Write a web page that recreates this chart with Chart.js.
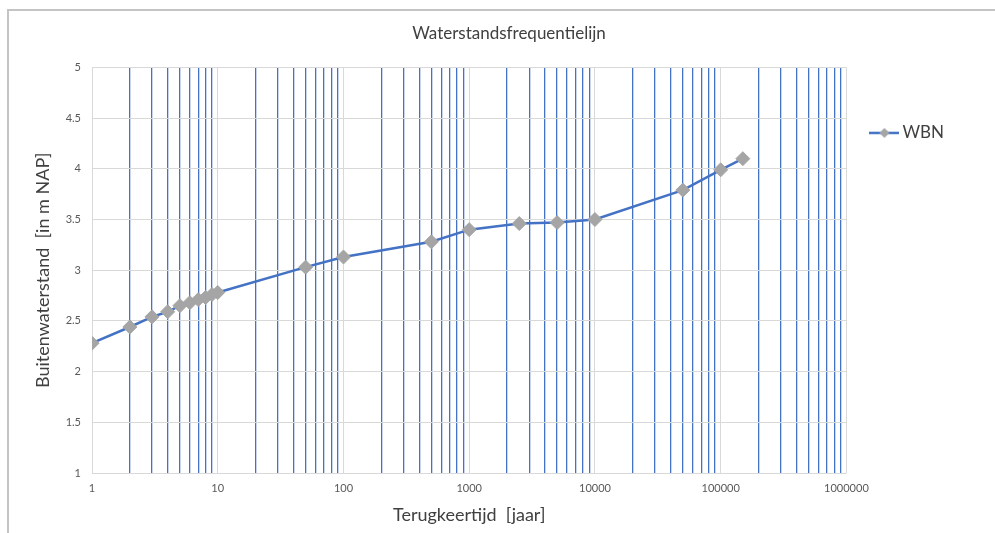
<!DOCTYPE html>
<html>
<head>
<meta charset="utf-8">
<script src="https://cdn.jsdelivr.net/npm/chart.js@4/dist/chart.umd.min.js"></script>
<style>
    body { margin: 0; background: #ffffff; }
    #wrap { position: relative; width: 995px; height: 533px; }
    #frame {
        position: absolute; left: 7px; top: 9px; right: 0; bottom: 0;
        border-top: 2px solid #c4c4c4; border-left: 2px solid #c4c4c4;
        pointer-events: none;
    }
</style>
</head>
<body>
<div id="wrap">
    <canvas id="grafica" width="995" height="533"></canvas>
    <div id="frame"></div>
</div>
<script>
// terugkeertijd (jaar) en waterstand (m NAP)
const terugkeertijden = [1, 2, 3, 4, 5, 6, 7, 8, 9, 10, 50, 100, 500, 1000, 2500, 5000, 10000, 50000, 100000, 150000];
const waterstanden = [2.28, 2.44, 2.54, 2.59, 2.65, 2.68, 2.71, 2.73, 2.76, 2.78, 3.03, 3.13, 3.28, 3.40, 3.46, 3.47, 3.50, 3.79, 3.99, 4.10];
const serieNaam = "WBN";

const decaden = [1, 10, 100, 1000, 10000, 100000, 1000000];
const yTicks = [1, 1.5, 2, 2.5, 3, 3.5, 4, 4.5, 5];

const blauw = "#4472C4";
const grijs = "#A5A5A5";
const rasterGrijs = "#d9d9d9";
const tekstKleur = "#595959";

// alle log-ticks: 1..9 per decade
function logTicks() {
    const ticks = [];
    for (const d of decaden) {
        if (d === 1000000) { ticks.push(d); break; }
        for (let i = 1; i < 10; i++) ticks.push(i * d);
    }
    return ticks;
}

function isDecade(v) {
    return decaden.includes(v);
}

// legenda-symbool: lijn met ruit
function legendaSymbool() {
    const c = document.createElement("canvas");
    c.width = 30;
    c.height = 16;
    const ctx = c.getContext("2d");
    ctx.strokeStyle = blauw;
    ctx.lineWidth = 2.5;
    ctx.beginPath();
    ctx.moveTo(0, 8);
    ctx.lineTo(30, 8);
    ctx.stroke();
    ctx.fillStyle = grijs;
    ctx.beginPath();
    ctx.moveTo(15, 3);
    ctx.lineTo(20, 8);
    ctx.lineTo(15, 13);
    ctx.lineTo(10, 8);
    ctx.closePath();
    ctx.fill();
    return c;
}

const titelVerschuiving = {
    id: "titelVerschuiving",
    afterLayout(chart) {
        chart.titleBlock.left += 28;
        chart.titleBlock.right += 28;
    }
};

const data = {
    datasets: [{
        label: serieNaam,
        data: terugkeertijden.map((t, i) => ({ x: t, y: waterstanden[i] })),
        borderColor: blauw,
        borderWidth: 2.5,
        backgroundColor: grijs,
        pointStyle: "rectRot",
        pointRadius: 7,
        pointHoverRadius: 7,
        pointBackgroundColor: grijs,
        pointBorderColor: grijs,
        pointBorderWidth: 1,
        tension: 0
    }]
};

const config = {
    type: "line",
    data: data,
    plugins: [titelVerschuiving],
    options: {
        responsive: false,
        animation: false,
        layout: { padding: { left: 8, right: 41, top: 10, bottom: 0 } },
        plugins: {
            tooltip: { enabled: false },
            title: {
                display: true,
                text: "Waterstandsfrequentielijn",
                color: "#404040",
                font: { family: "Lato", size: 17, weight: "normal" },
                padding: { top: 13, bottom: 24 }
            },
            legend: {
                display: true,
                position: "right",
                align: "start",
                fullSize: false,
                title: { display: true, text: "", font: { size: 10 }, padding: { top: 16.5, bottom: 0 } },
                labels: {
                    usePointStyle: true,
                    pointStyleWidth: 19,
                    padding: 28.5,
                    color: "#404040",
                    font: { family: "Lato", size: 17 },
                    generateLabels(chart) {
                        return [{
                            text: serieNaam,
                            pointStyle: legendaSymbool(),
                            fillStyle: grijs,
                            strokeStyle: blauw,
                            lineWidth: 0,
                            fontColor: "#404040",
                            datasetIndex: 0,
                            hidden: false
                        }];
                    }
                }
            }
        },
        scales: {
            x: {
                type: "logarithmic",
                min: 1,
                max: 1000000,
                afterBuildTicks(scale) {
                    scale.ticks = logTicks().map(v => ({ value: v, major: isDecade(v) }));
                },
                afterFit(scale) { scale.height = 60; },
                grid: {
                    drawTicks: false,
                    color: ctx => (ctx.tick && isDecade(ctx.tick.value)) ? rasterGrijs : blauw,
                    lineWidth: ctx => (ctx.tick && isDecade(ctx.tick.value)) ? 1 : 1.3
                },
                border: { display: false },
                ticks: {
                    autoSkip: false,
                    maxRotation: 0,
                    padding: 9,
                    color: tekstKleur,
                    font: { family: "Lato", size: 11 },
                    callback: (v) => isDecade(v) ? String(v) : ""
                },
                title: {
                    display: true,
                    text: "Terugkeertijd  [jaar]",
                    color: "#404040",
                    font: { family: "Lato", size: 18 },
                    padding: { top: 0, bottom: 7 }
                }
            },
            y: {
                min: 1,
                max: 5,
                afterBuildTicks(scale) {
                    scale.ticks = yTicks.map(v => ({ value: v }));
                },
                afterFit(scale) { scale.width = 84; },
                grid: { drawTicks: false, color: rasterGrijs, lineWidth: 1 },
                border: { display: false },
                ticks: {
                    padding: 11,
                    color: tekstKleur,
                    font: { family: "Lato", size: 11 },
                    callback: (v) => String(v)
                },
                title: {
                    display: true,
                    text: "Buitenwaterstand  [in m NAP]",
                    color: "#404040",
                    font: { family: "Lato", size: 18 },
                    padding: { top: 24, bottom: 0 }
                }
            }
        }
    }
};

const ChartPrincipal = new Chart(document.getElementById("grafica"), config);
</script>
</body>
</html>
